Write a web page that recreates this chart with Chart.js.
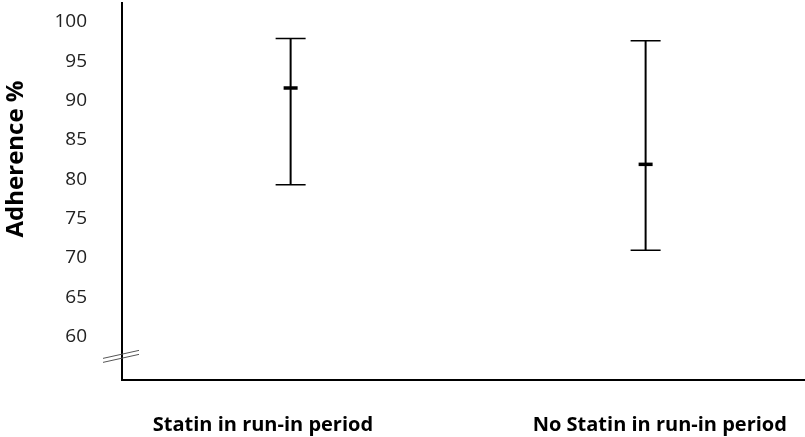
<!DOCTYPE html>
<html>
<head>
<meta charset="utf-8">
<script src="https://cdn.jsdelivr.net/npm/chart.js@4"></script>
<style>
  html, body { margin: 0; padding: 0; background: #fff; }
</style>
</head>
<body>
<canvas id="adherenceChart" width="805" height="437"></canvas>
<script>
// values
const groups = ["Statin in run-in period", "No Statin in run-in period"];
const groupPos = [1, 2];
const labelPos = [0.922, 2.04];
const means = [91.6, 81.9];
const lows = [79.3, 71.0];
const highs = [97.9, 97.6];
const yTicks = [60, 65, 70, 75, 80, 85, 90, 95, 100];
const yTitle = "Adherence %";

// error bars: whisker, caps and a short thick mean mark
const errorBars = {
  id: "errorBars",
  afterDatasetsDraw(chart) {
    const { ctx, scales: { x, y } } = chart;
    ctx.save();
    ctx.strokeStyle = "#000";
    means.forEach((m, i) => {
      const px = x.getPixelForValue(groupPos[i]);
      const top = y.getPixelForValue(highs[i]);
      const bot = y.getPixelForValue(lows[i]);
      const mid = y.getPixelForValue(m);
      ctx.lineWidth = 2;
      ctx.beginPath();
      ctx.moveTo(px, top);
      ctx.lineTo(px, bot);
      ctx.stroke();
      ctx.lineWidth = 1.5;
      ctx.beginPath();
      ctx.moveTo(px - 15, top);
      ctx.lineTo(px + 15, top);
      ctx.moveTo(px - 15, bot);
      ctx.lineTo(px + 15, bot);
      ctx.stroke();
      ctx.lineWidth = 3.5;
      ctx.beginPath();
      ctx.moveTo(px - 7, mid);
      ctx.lineTo(px + 7, mid);
      ctx.stroke();
    });
    ctx.restore();
  }
};

// axis break marks and the rotated y title
const extras = {
  id: "extras",
  afterDraw(chart) {
    const { ctx, scales: { y } } = chart;
    const bx = y.right;
    const by = y.getPixelForValue(57.5);
    ctx.save();
    ctx.strokeStyle = "#555";
    ctx.lineWidth = 1;
    [-2, 2].forEach(d => {
      ctx.beginPath();
      ctx.moveTo(bx - 19, by + 4 + d);
      ctx.lineTo(bx + 17, by - 4 + d);
      ctx.stroke();
    });
    ctx.translate(16, 159);
    ctx.rotate(-Math.PI / 2);
    ctx.fillStyle = "#000";
    ctx.font = "bold 24px 'Open Sans'";
    ctx.textAlign = "center";
    ctx.textBaseline = "middle";
    ctx.fillText(yTitle, 0, 0);
    ctx.restore();
  }
};

new Chart(document.getElementById("adherenceChart"), {
  type: "scatter",
  data: {
    datasets: [{
      data: means.map((m, i) => ({ x: groupPos[i], y: m })),
      pointRadius: 0
    }]
  },
  options: {
    responsive: false,
    animation: false,
    layout: { padding: { top: 3, right: 0, bottom: 0, left: 0 } },
    plugins: { legend: { display: false }, tooltip: { enabled: false } },
    scales: {
      x: {
        type: "linear",
        min: 0.525,
        max: 2.449,
        afterBuildTicks: s => { s.ticks = labelPos.map(v => ({ value: v })); },
        afterFit: s => { s.height = 57; s.paddingLeft = 0; s.paddingRight = 0; },
        grid: { display: false, drawTicks: false },
        border: { display: true, color: "#000", width: 2 },
        ticks: {
          autoSkip: false,
          maxRotation: 0,
          padding: 33,
          color: "#000",
          font: { family: "Open Sans", size: 20, weight: "bold" },
          callback: (v, i) => groups[i]
        }
      },
      y: {
        min: 54.5,
        max: 102.4,
        afterBuildTicks: s => { s.ticks = yTicks.map(v => ({ value: v })); },
        afterFit: s => { s.width = 122; s.paddingTop = 0; s.paddingBottom = 0; },
        grid: { display: false, drawTicks: false },
        border: { display: true, color: "#000", width: 2 },
        ticks: {
          padding: 35,
          color: "#222",
          font: { family: "Open Sans", size: 19 }
        }
      }
    }
  },
  plugins: [errorBars, extras]
});
</script>
</body>
</html>
